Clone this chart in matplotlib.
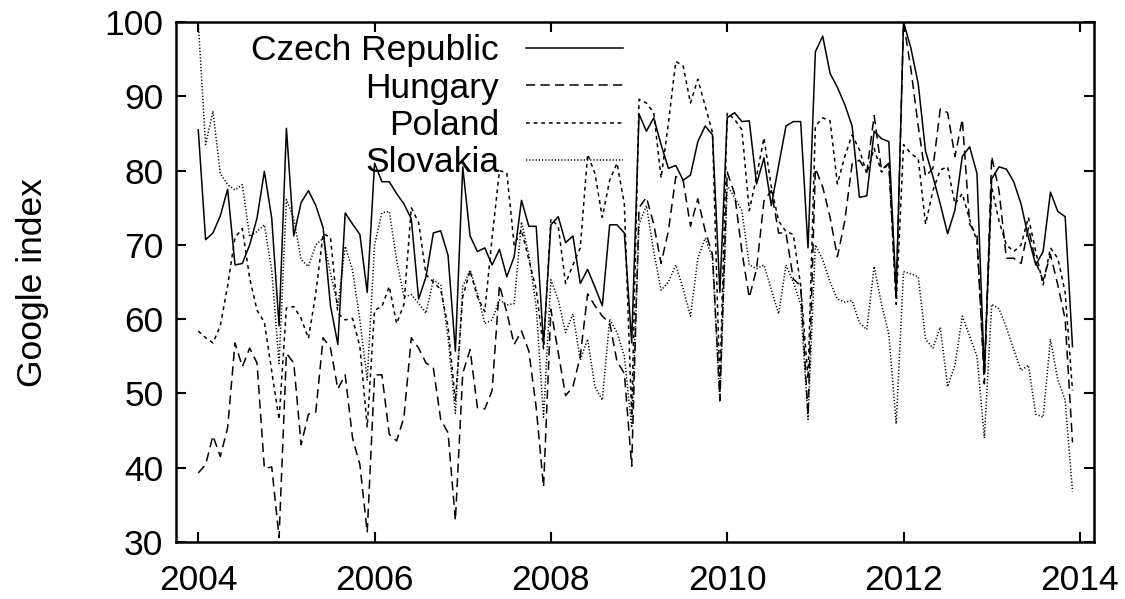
import numpy as np
import matplotlib
matplotlib.use("Agg")
import matplotlib.pyplot as plt

plt.rcParams["font.family"] = ["Liberation Sans", "DejaVu Sans"]

# --- monthly Google index, Jan 2004 .. Dec 2013 ---
months = 2004 + np.arange(120) / 12.0

czech = [85.5, 70.7, 71.6, 73.9, 77.5, 67.3, 67.5, 70.0, 73.6, 79.9, 73.6, 59.1,
         85.7, 71.2, 75.7, 77.3, 75.3, 72.3, 61.8, 56.6, 74.3, 72.8, 71.4, 63.6,
         81.0, 78.5, 78.5, 76.9, 75.5, 73.5, 62.7, 65.7, 71.6, 71.9, 68.6, 55.7,
         80.5, 71.2, 69.1, 69.6, 67.3, 69.4, 65.7, 68.4, 76.0, 72.5, 72.5, 56.6,
         72.7, 73.8, 70.3, 71.2, 64.8, 66.7, 64.3, 61.8, 72.7, 72.7, 71.6, 56.8,
         87.6, 85.3, 87.1, 83.5, 80.3, 80.7, 78.7, 79.4, 83.9, 86.0, 84.8, 63.6,
         87.1, 87.8, 86.6, 86.7, 78.2, 81.7, 75.3, 80.7, 86.0, 86.6, 86.6, 69.6,
         96.0, 98.1, 93.1, 91.2, 88.9, 86.0, 76.4, 76.6, 85.3, 84.3, 83.9, 63.5,
         100.0, 96.5, 91.7, 82.6, 79.2, 75.5, 71.5, 74.7, 81.9, 83.2, 79.6, 52.7,
         78.9, 80.5, 80.2, 78.5, 75.5, 71.0, 67.3, 69.1, 77.1, 74.5, 73.8, 56.3]

hungary = [39.3, 40.4, 44.3, 41.5, 45.4, 56.8, 53.6, 56.1, 54.1, 39.9, 40.1, 30.6,
           55.4, 54.1, 43.1, 47.2, 47.5, 57.5, 56.1, 50.6, 52.5, 44.0, 40.4, 31.3,
           52.5, 52.5, 44.5, 43.6, 46.8, 57.5, 56.1, 54.1, 53.4, 46.5, 44.7, 32.9,
           52.7, 55.9, 48.1, 47.9, 50.4, 64.6, 60.9, 56.6, 58.4, 55.7, 48.1, 37.4,
           61.3, 55.5, 49.7, 50.9, 55.0, 63.4, 61.8, 60.4, 59.5, 54.3, 52.7, 40.2,
           75.0, 76.4, 72.8, 67.5, 71.9, 79.2, 78.7, 72.5, 76.2, 71.9, 68.7, 49.1,
           79.8, 76.9, 69.1, 62.9, 66.8, 75.9, 77.3, 71.6, 71.6, 65.4, 64.5, 47.0,
           80.3, 77.8, 73.7, 68.4, 73.2, 80.9, 81.4, 79.8, 87.4, 80.1, 81.0, 62.7,
           100.0, 93.7, 86.0, 79.2, 80.3, 88.3, 87.8, 81.9, 86.9, 72.8, 71.2, 51.3,
           81.9, 77.3, 68.2, 68.2, 67.5, 72.3, 67.7, 65.2, 68.7, 64.6, 60.0, 43.4]

poland = [58.4, 57.5, 56.8, 59.1, 64.5, 71.0, 72.2, 65.5, 61.2, 59.6, 53.0, 46.5,
          61.5, 61.7, 60.1, 57.4, 63.5, 71.5, 71.0, 60.8, 59.9, 60.1, 56.3, 45.5,
          61.2, 61.7, 64.4, 59.4, 62.0, 75.0, 73.0, 66.0, 65.0, 64.0, 59.0, 49.0,
          63.0, 66.5, 63.0, 61.0, 71.0, 80.0, 79.7, 70.0, 72.0, 68.0, 64.0, 56.0,
          73.5, 72.5, 64.8, 67.3, 69.6, 82.2, 79.6, 73.7, 78.7, 81.0, 75.5, 47.0,
          89.6, 89.1, 87.8, 79.0, 86.4, 94.7, 94.1, 89.1, 92.3, 88.7, 85.1, 51.0,
          87.8, 86.9, 85.5, 74.6, 79.2, 84.4, 77.8, 73.2, 71.8, 71.4, 64.5, 52.0,
          86.0, 87.1, 86.7, 78.2, 81.9, 84.8, 82.8, 79.6, 83.0, 79.8, 81.0, 62.0,
          83.5, 82.3, 81.6, 72.8, 77.3, 80.1, 80.5, 75.5, 76.9, 73.4, 70.5, 52.7,
          77.8, 73.2, 70.0, 69.1, 70.0, 73.7, 69.1, 64.6, 69.6, 68.2, 63.6, 50.4]

slovakia = [100.0, 83.5, 88.0, 79.6, 78.1, 77.4, 78.1, 71.1, 71.8, 72.7, 66.6, 54.0,
            76.1, 73.6, 68.0, 67.1, 70.0, 70.9, 66.2, 61.7, 69.8, 66.6, 59.9, 51.8,
            70.0, 74.3, 74.5, 68.0, 63.0, 63.3, 62.1, 60.8, 65.3, 64.6, 57.6, 47.3,
            64.4, 66.6, 63.5, 59.4, 59.9, 62.6, 61.9, 62.1, 73.1, 68.6, 61.7, 46.8,
            65.3, 62.6, 58.2, 60.7, 54.5, 57.3, 50.9, 49.1, 60.0, 58.2, 55.0, 45.4,
            72.8, 75.3, 69.1, 63.9, 65.0, 67.3, 64.1, 60.4, 68.2, 70.9, 68.2, 49.0,
            78.0, 76.4, 74.6, 67.3, 66.8, 67.3, 64.0, 60.7, 67.3, 65.0, 62.0, 46.5,
            70.0, 68.0, 65.0, 62.7, 62.3, 62.5, 59.5, 58.6, 67.1, 62.0, 58.0, 45.9,
            66.4, 66.1, 65.7, 57.3, 56.1, 58.9, 50.9, 53.8, 60.4, 57.7, 55.0, 44.0,
            62.0, 61.4, 58.9, 55.9, 53.1, 53.8, 47.2, 46.8, 57.3, 51.8, 49.1, 36.8]

x_ticks = [2004, 2006, 2008, 2010, 2012, 2014]
y_ticks = [30, 40, 50, 60, 70, 80, 90, 100]

fig = plt.figure(figsize=(11.25, 5.99), dpi=100)
ax = fig.add_axes([0.1564, 0.0952, 0.816, 0.868])

ax.plot(months, czech, color="black", lw=1.1, ls="-", label="Czech Republic")
ax.plot(months, hungary, color="black", lw=1.1, ls=(0, (6, 3.5)), label="Hungary")
ax.plot(months, poland, color="black", lw=1.1, ls=(0, (2.5, 2.5)), label="Poland")
ax.plot(months, slovakia, color="black", lw=1.1, ls=(0, (0.8, 1.3)), label="Slovakia")

ax.set_xlim(2003.747, 2014.16)
ax.set_ylim(30, 100)
ax.set_xticks(x_ticks)
ax.set_yticks(y_ticks)
ax.tick_params(direction="in", length=7, width=1.5, top=True, right=True,
               labelsize=25.5)
ax.tick_params(axis="x", pad=16)
ax.tick_params(axis="y", pad=9)
for s in ax.spines.values():
    s.set_linewidth(1.8)

ax.set_ylabel("Google index", fontsize=25.5, labelpad=40)

leg = ax.legend(loc="upper right", bbox_to_anchor=(0.491, 0.983), frameon=False,
                markerfirst=False, fontsize=25.5, handlelength=2.75,
                handletextpad=0.75, labelspacing=0.12, borderpad=0.1,
                borderaxespad=0)

fig.savefig("out.png", dpi=100)
